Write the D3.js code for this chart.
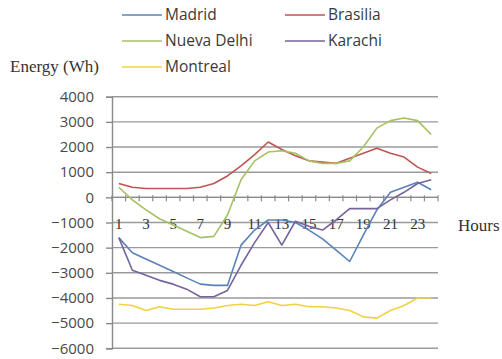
<!DOCTYPE html>
<html>
<head>
<meta charset="utf-8">
<script src="https://cdn.jsdelivr.net/npm/d3@7/dist/d3.min.js"></script>
<style>
  body { margin: 0; background: #fff; }
  svg { display: block; }
</style>
</head>
<body>
<svg id="chart" width="502" height="359"></svg>
<script>
// Hourly energy balance per city
const hours = [1, 2, 3, 4, 5, 6, 7, 8, 9, 10, 11, 12, 13, 14, 15, 16, 17, 18, 19, 20, 21, 22, 23, 24];
const hourLabels = [1, 3, 5, 7, 9, 11, 13, 15, 17, 19, 21, 23];
const yTicks = [4000, 3000, 2000, 1000, 0, -1000, -2000, -3000, -4000, -5000, -6000];

const madrid     = [-1600, -2200, -2450, -2700, -2950, -3200, -3450, -3500, -3500, -1900, -1300, -900, -900, -1000, -1300, -1650, -2100, -2550, -1500, -500, 200, 400, 600, 300];
const brasilia   = [550, 400, 350, 350, 350, 350, 400, 550, 850, 1250, 1700, 2200, 1900, 1650, 1450, 1400, 1350, 1550, 1750, 1950, 1750, 1600, 1200, 950];
const nuevaDelhi = [400, -100, -500, -850, -1100, -1350, -1600, -1550, -700, 700, 1450, 1800, 1850, 1750, 1450, 1350, 1350, 1450, 2000, 2750, 3050, 3150, 3050, 2500];
const karachi    = [-1600, -2900, -3100, -3300, -3450, -3650, -3950, -3950, -3700, -2700, -1800, -1000, -1900, -950, -1150, -1300, -900, -450, -450, -450, -100, 200, 550, 700];
const montreal   = [-4250, -4300, -4500, -4350, -4450, -4450, -4450, -4400, -4300, -4250, -4300, -4150, -4300, -4250, -4350, -4350, -4400, -4500, -4750, -4800, -4500, -4300, -4000, -4000];

const seriesNames  = ["Madrid", "Brasilia", "Nueva Delhi", "Karachi", "Montreal"];
const seriesValues = [madrid, brasilia, nuevaDelhi, karachi, montreal];
const seriesColors = ["#5B82B8", "#BE5552", "#A4C163", "#74649E", "#F0D244"];

const svg = d3.select("#chart");
const plot = { left: 112, right: 438, top: 96.7, bottom: 348.3 };

const x = d3.scaleBand().domain(hours).range([plot.left, plot.right]).padding(0);
const y = d3.scaleLinear().domain([-6000, 4000]).range([plot.bottom, plot.top]);
const cx = h => x(h) + x.bandwidth() / 2;

// horizontal gridlines
svg.append("g")
  .selectAll("line")
  .data(yTicks)
  .join("line")
  .attr("x1", plot.left).attr("x2", plot.right)
  .attr("y1", d => y(d)).attr("y2", d => y(d))
  .attr("stroke", "#9a9a9a")
  .attr("stroke-width", 1.4);

// value axis
const yAxis = svg.append("g")
  .attr("transform", `translate(${plot.left},0)`)
  .call(d3.axisLeft(y).tickValues(yTicks).tickSize(6).tickPadding(12).tickFormat(d3.format("d")));
yAxis.select(".domain").attr("stroke", "#8a8a8a").attr("stroke-width", 1.4);
yAxis.selectAll(".tick line").attr("stroke", "#8a8a8a").attr("stroke-width", 1.4);
yAxis.selectAll("text")
  .attr("font-family", "'Open Sans', sans-serif")
  .attr("font-size", 15)
  .attr("fill", "#4a4a4a");

// category axis crossing at zero
const xAxisG = svg.append("g").attr("transform", `translate(0,${y(0)})`);
xAxisG.append("line")
  .attr("x1", plot.left).attr("x2", plot.right)
  .attr("stroke", "#8a8a8a").attr("stroke-width", 1.4);
const boundaries = hours.map(h => x(h)).concat([plot.right]);
xAxisG.selectAll("line.tick")
  .data(boundaries)
  .join("line")
  .attr("class", "tick")
  .attr("x1", d => d).attr("x2", d => d)
  .attr("y1", -2).attr("y2", 4)
  .attr("stroke", "#8a8a8a").attr("stroke-width", 1.2);
xAxisG.selectAll("text.lbl")
  .data(hourLabels)
  .join("text")
  .attr("class", "lbl")
  .attr("x", d => cx(d))
  .attr("y", 32)
  .attr("text-anchor", "middle")
  .attr("font-family", "'Liberation Serif', serif")
  .attr("font-size", 15)
  .attr("fill", "#333")
  .text(d => d);

// series lines
const line = d3.line()
  .x((d, i) => cx(hours[i]))
  .y(d => y(d));

svg.append("g")
  .selectAll("path")
  .data(seriesValues)
  .join("path")
  .attr("d", d => line(d))
  .attr("fill", "none")
  .attr("stroke", (d, i) => seriesColors[i])
  .attr("stroke-width", 1.6)
  .attr("stroke-linejoin", "round");

// axis titles
svg.append("text")
  .attr("x", 10).attr("y", 72)
  .attr("font-family", "'Liberation Serif', serif")
  .attr("font-size", 17)
  .attr("fill", "#333")
  .text("Energy (Wh)");
svg.append("text")
  .attr("x", 458).attr("y", 231)
  .attr("font-family", "'Liberation Serif', serif")
  .attr("font-size", 17)
  .attr("fill", "#333")
  .text("Hours");

// legend
const legendPos = [[122, 15], [285, 15], [122, 41], [285, 41], [122, 67]];
const legend = svg.append("g")
  .selectAll("g")
  .data(seriesNames)
  .join("g")
  .attr("transform", (d, i) => `translate(${legendPos[i][0]},${legendPos[i][1]})`);
legend.append("line")
  .attr("x1", 0).attr("x2", 40)
  .attr("stroke", (d, i) => seriesColors[i])
  .attr("stroke-width", 1.6);
legend.append("text")
  .attr("x", 43).attr("y", 0).attr("dy", "0.35em")
  .attr("font-family", "'Open Sans', sans-serif")
  .attr("font-size", 15.5)
  .attr("fill", "#3a3a3a")
  .text(d => d);
</script>
</body>
</html>
